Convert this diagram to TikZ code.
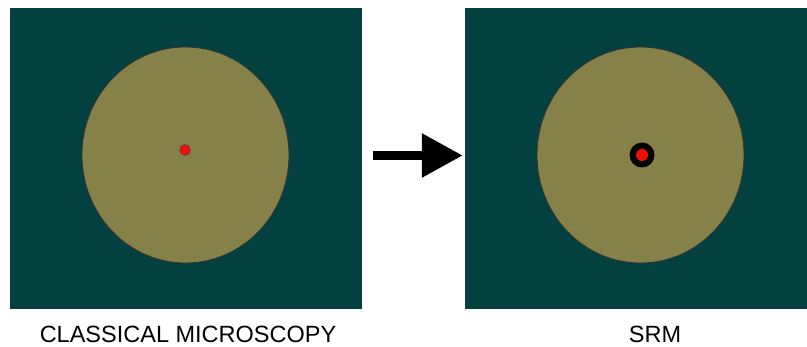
\documentclass[tikz,border=0pt]{standalone}
\usepackage{fontspec}
\setmainfont{Liberation Sans}
\usetikzlibrary{arrows.meta}
\definecolor{PanelTeal}{RGB}{3,64,64}
\definecolor{FieldOlive}{RGB}{134,129,72}
\definecolor{SpotRed}{RGB}{242,12,12}

\begin{document}
\begin{tikzpicture}[x=1pt,y=-1pt,
    panel/.style={fill=PanelTeal, inner sep=0pt, minimum height=300.5pt},
    field/.style={fill=FieldOlive, draw=black!80, line width=0.8pt},
    bigarrow/.style={line width=9pt, -{Triangle[length=41pt,width=42pt]}},
    caption/.style={anchor=base, font=\fontsize{23.5}{26}\selectfont}]
                \useasboundingbox (0,0) rectangle (807,347);
                \def\rx{103.5}
                \def\ry{108}
                % the two views
                \node[panel, minimum width=352.5pt] (clpanel) at (185.75,158.75) {};
                \node[panel, minimum width=342pt] (srmpanel) at (636,158.75) {};
                \filldraw[field] (185.5,155) ellipse [x radius=\rx, y radius=\ry];
                \filldraw[field] (640.5,155) ellipse [x radius=\rx, y radius=\ry];
                % spots
                \filldraw[fill=SpotRed, draw=black!70, line width=0.6pt] (185,150) circle (5.5);
                \fill[black] (642,155) circle (12.5);
                \fill[SpotRed] (642,155) circle (6);
                \draw[bigarrow, shorten <=11pt, shorten >=2pt]
                ([yshift=3.25pt]clpanel.east) -- ([yshift=3.25pt]srmpanel.west);
                \node[caption] (cltext) at (188,343) {CLASSICAL MICROSCOPY};
                \node[caption] (srmtext) at (655,343) {SRM};
\end{tikzpicture}
\end{document}
